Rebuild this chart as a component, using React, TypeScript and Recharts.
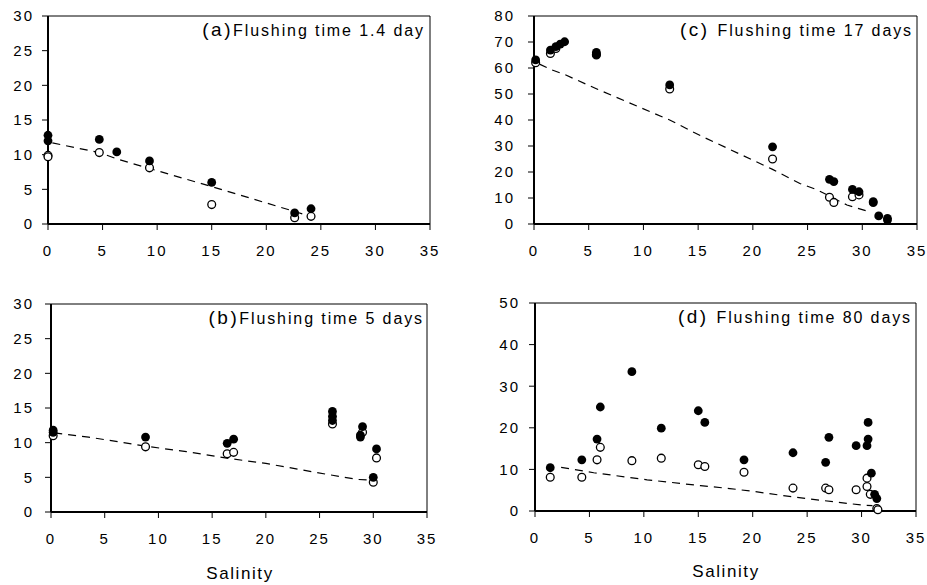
import React from "react";
import { ScatterChart, Scatter, XAxis, YAxis, ReferenceLine } from "recharts";

type Pt = [number, number];

// shared x axis (salinity)
const salinityTicks = [0, 5, 10, 15, 20, 25, 30, 35];

// (a) flushing time 1.4 day
const aTicks = [0, 5, 10, 15, 20, 25, 30];
const aFilled: Pt[] = [[0, 12.8], [0, 12.0], [4.7, 12.2], [6.3, 10.4], [9.3, 9.1], [15.0, 6.0], [22.6, 1.6], [24.1, 2.2]];
const aOpen: Pt[] = [[0, 9.9], [0, 9.7], [4.7, 10.3], [9.3, 8.1], [15.0, 2.8], [22.6, 0.9], [24.1, 1.1]];
const aModel: Pt[] = [[0.4, 11.7], [4.7, 10.3], [6.3, 9.4], [9.3, 8.0], [15.0, 5.4], [22.6, 1.8], [23.4, 1.4]];

// (b) flushing time 5 days
const bTicks = [0, 5, 10, 15, 20, 25, 30];
const bFilled: Pt[] = [[0.2, 11.8], [0.2, 11.5], [8.8, 10.8], [16.4, 9.9], [17.0, 10.5], [26.2, 14.5], [26.2, 13.8], [26.2, 13.2], [29.0, 12.3], [28.8, 11.1], [28.8, 10.8], [30.3, 9.1], [30.0, 5.0]];
const bOpen: Pt[] = [[0.2, 11.0], [8.8, 9.4], [16.4, 8.4], [17.0, 8.6], [26.2, 12.7], [29.0, 11.5], [30.3, 7.8], [30.0, 4.3]];
const bModel: Pt[] = [[0.3, 11.4], [3.5, 10.8], [8.8, 9.5], [12.6, 8.7], [16.7, 7.7], [20.0, 7.0], [24.7, 5.7], [26.2, 5.3], [28.5, 4.7], [30.0, 4.6]];

// (c) flushing time 17 days
const cTicks = [0, 10, 20, 30, 40, 50, 60, 70, 80];
const cFilled: Pt[] = [[0.15, 63.1], [1.5, 66.9], [2.0, 68.2], [2.4, 69.2], [2.8, 70.1], [5.7, 66.0], [5.7, 65.2], [12.4, 53.5], [21.8, 29.7], [27.0, 17.2], [27.4, 16.3], [29.1, 13.3], [29.7, 12.4], [31.0, 8.6], [31.0, 8.2], [31.5, 3.1], [32.3, 2.2], [32.3, 1.5]];
const cOpen: Pt[] = [[0.15, 62.0], [1.5, 65.6], [2.0, 67.5], [5.7, 65.0], [12.4, 51.9], [21.8, 25.0], [27.0, 10.3], [27.4, 8.3], [29.1, 10.5], [29.7, 11.2]];
const cModel: Pt[] = [[0.5, 61.5], [1.5, 59.5], [2.8, 57.5], [5.7, 52.0], [12.4, 40.0], [15.2, 34.0], [21.8, 21.0], [24.3, 15.6], [25.9, 13.1], [28.6, 7.3], [30.4, 5.0]];

// (d) flushing time 80 days
const dTicks = [0, 10, 20, 30, 40, 50];
const dFilled: Pt[] = [[1.4, 10.4], [4.3, 12.3], [5.7, 17.3], [6.0, 25.0], [8.9, 33.5], [11.6, 19.9], [15.0, 24.1], [15.6, 21.3], [19.2, 12.3], [23.7, 14.0], [26.7, 11.7], [27.0, 17.7], [29.5, 15.7], [30.5, 15.7], [30.6, 17.3], [30.6, 21.3], [30.9, 9.1], [31.2, 4.0], [31.4, 3.0]];
const dOpen: Pt[] = [[1.4, 8.1], [4.3, 8.1], [5.7, 12.3], [6.0, 15.3], [8.9, 12.1], [11.6, 12.7], [15.0, 11.1], [15.6, 10.7], [19.2, 9.3], [23.7, 5.5], [26.7, 5.5], [27.0, 5.1], [29.5, 5.1], [30.5, 7.9], [30.5, 5.9], [30.8, 4.0], [31.4, 0.6], [31.5, 0.3]];
const dModel: Pt[] = [[2.4, 10.5], [5.4, 9.2], [10.3, 7.5], [15.2, 6.1], [17.9, 5.4], [20.1, 4.7], [22.8, 3.7], [26.2, 2.6], [30.1, 1.4], [31.0, 1.3]];

const FONT = '"Liberation Sans", Arial, sans-serif';
const tickStyle = { fontSize: 15, fill: "#000", letterSpacing: 2 };

const toXY = (pts: Pt[]) => pts.map(([x, y]) => ({ x, y }));

const FilledDot = (p: any) => <circle cx={p.cx} cy={p.cy} r={4.4} fill="#000" />;
const OpenDot = (p: any) => (
  <circle cx={p.cx} cy={p.cy} r={3.9} fill="#fff" stroke="#000" strokeWidth={1.3} />
);
const NoDot = () => <g />;

interface PanelProps {
  left: number;
  top: number;
  width: number;
  yMax: number;
  yTicks: number[];
  yTickMargin: number;
  filled: Pt[];
  open: Pt[];
  model: Pt[];
}

function Panel({ left, top, width, yMax, yTicks, yTickMargin, filled, open, model }: PanelProps) {
  return (
    <div style={{ position: "absolute", left, top }}>
      <ScatterChart width={width} height={264} margin={{ top: 16, right: 10, left: 0, bottom: 0 }}>
        <XAxis
          type="number"
          dataKey="x"
          domain={[0, 35]}
          ticks={salinityTicks}
          interval={0}
          height={40}
          tickSize={6}
          tickMargin={15}
          axisLine={{ stroke: "#000", strokeWidth: 2 }}
          tickLine={{ stroke: "#000" }}
          tick={tickStyle}
        />
        <YAxis
          type="number"
          dataKey="y"
          domain={[0, yMax]}
          ticks={yTicks}
          interval={0}
          width={48}
          tickSize={6}
          tickMargin={yTickMargin}
          axisLine={{ stroke: "#000", strokeWidth: 2 }}
          tickLine={{ stroke: "#000" }}
          tick={tickStyle}
        />
        <ReferenceLine y={yMax} stroke="#000" strokeWidth={1} />
        <ReferenceLine x={35} stroke="#000" strokeWidth={1} />
        <Scatter
          data={toXY(model)}
          line={{ stroke: "#000", strokeWidth: 1.2, strokeDasharray: "8 6" }}
          lineType="joint"
          shape={NoDot}
          isAnimationActive={false}
        />
        <Scatter data={toXY(open)} shape={OpenDot} isAnimationActive={false} />
        <Scatter data={toXY(filled)} shape={FilledDot} isAnimationActive={false} />
      </ScatterChart>
    </div>
  );
}

function Title({ x, y, tag, text }: { x: number; y: number; tag: string; text: string }) {
  return (
    <text x={x} y={y} textAnchor="end" fill="#000">
      <tspan fontSize={19} letterSpacing={2.5}>{tag}</tspan>
      <tspan fontSize={16} letterSpacing={1.9}>{text}</tspan>
    </text>
  );
}

export default function App() {
  return (
    <div
      style={{
        position: "absolute",
        left: 0,
        top: 0,
        width: 927,
        height: 585,
        background: "#fff",
        fontFamily: FONT,
      }}
    >
      <Panel left={0} top={0} width={440} yMax={30} yTicks={aTicks} yTickMargin={8} filled={aFilled} open={aOpen} model={aModel} />
      <Panel left={486} top={0} width={441} yMax={80} yTicks={cTicks} yTickMargin={13} filled={cFilled} open={cOpen} model={cModel} />
      <Panel left={3} top={288} width={434} yMax={30} yTicks={bTicks} yTickMargin={11} filled={bFilled} open={bOpen} model={bModel} />
      <Panel left={487} top={287} width={439} yMax={50} yTicks={dTicks} yTickMargin={9} filled={dFilled} open={dOpen} model={dModel} />
      <svg
        width={927}
        height={585}
        style={{ position: "absolute", left: 0, top: 0, pointerEvents: "none" }}
      >
        <Title x={425} y={36} tag="(a)" text="Flushing time 1.4 day" />
        <Title x={913} y={36} tag="(c) " text="Flushing time 17 days" />
        <Title x={424} y={324} tag="(b)" text="Flushing time 5 days" />
        <Title x={912} y={323} tag="(d) " text="Flushing time 80 days" />
        <text x={240} y={579} textAnchor="middle" fontSize={17} letterSpacing={1.6} fill="#000">
          Salinity
        </text>
        <text x={726} y={577} textAnchor="middle" fontSize={17} letterSpacing={1.6} fill="#000">
          Salinity
        </text>
      </svg>
    </div>
  );
}
